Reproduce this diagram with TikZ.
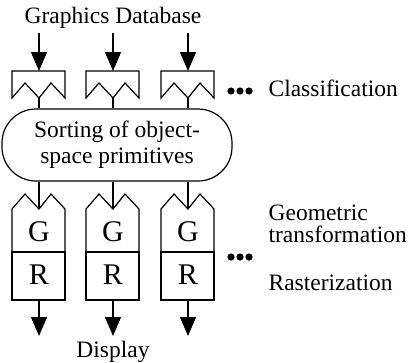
\documentclass[tikz,border=0pt]{standalone}
\usepackage{fontspec}
\setmainfont{Liberation Serif}
\usetikzlibrary{arrows.meta}

\begin{document}
\begin{tikzpicture}[x=1pt, y=-1pt, line width=1.2pt,
    txt/.style={inner sep=0pt, font=\fontsize{23.5}{26}\selectfont},
    unit/.style={inner sep=0pt, font=\fontsize{30}{32}\selectfont},
    flow/.style={-{Triangle[width=16pt,length=19pt]}},
    dot/.style={fill=black, draw=none}]
    \useasboundingbox (0,0) rectangle (409,362);
    \node[txt] (db) at (113,18) {Graphics Database};
    \node[txt] (disp) at (113,352) {Display};
    \node[draw, txt, minimum width=230pt, minimum height=72pt,
	rounded corners=34pt, align=center] (sort) at (117,145)
	{Sorting of object-\\space primitives};
    \foreach \i/\x in {1/39, 2/113, 3/188} {
	\coordinate (in\i) at (\x,33);
	\coordinate (cl\i) at (\x,71);
	\coordinate (clv\i) at (\x,98);
	\coordinate (gv\i) at (\x,209);
	\coordinate (rb\i) at (\x,300);
	\coordinate (out\i) at (\x,336);
	% classification box
	\draw (\x-27,98) -- (\x-27,71) -- (\x+26,71) -- (\x+26,98)
	    -- (\x+12,83) -- (clv\i) -- (\x-14,83) -- cycle;
	\draw[flow] (in\i) -- (cl\i);
	\draw (clv\i) -- (clv\i |- sort.north);
	% G and R boxes
	\draw (\x-27,252) -- (\x-27,209) -- (\x-14,194) -- (gv\i)
	    -- (\x+12,194) -- (\x+26,209) -- (\x+26,252);
	\draw (\x-27,252) rectangle (\x+26,300);
	\node[unit] (g\i) at (\x,232) {G};
	\node[unit] (r\i) at (\x,275) {R};
	\draw (clv\i |- sort.south) -- (gv\i);
	\draw[flow] (rb\i) -- (out\i);
    }
    \foreach \d in {231, 240, 249} {
	\fill[dot] (\d,91) circle (3.6);
	\fill[dot] (\d,257) circle (3.6);
    }
    \node[txt, anchor=west] (cls) at (268,88) {Classification};
    \node[txt, anchor=west, align=left,
	font=\fontsize{23.5}{21.5}\selectfont] (geo) at (268,224)
	{Geometric\\transformation};
    \node[txt, anchor=west] (ras) at (268,283) {Rasterization};
\end{tikzpicture}
\end{document}
